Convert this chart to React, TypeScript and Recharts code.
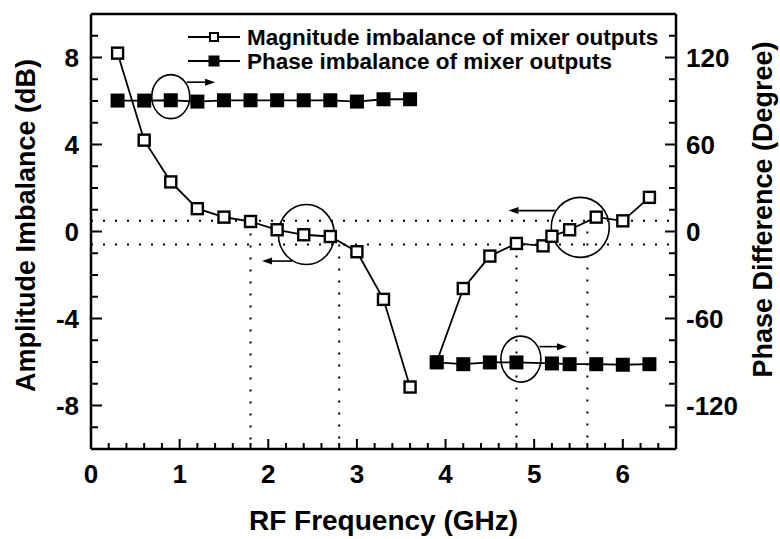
import React from 'react';
import {
  ComposedChart,
  Line,
  XAxis,
  YAxis,
  ReferenceLine,
  ReferenceDot,
  Legend,
} from 'recharts';

const FONT = '"Liberation Sans", Arial, Helvetica, sans-serif';

// Magnitude imbalance (dB): low band and high band are measured separately
const AMP_LOW_FREQ = [0.3, 0.6, 0.9, 1.2, 1.5, 1.8, 2.1, 2.4, 2.7, 3.0, 3.3, 3.6];
const AMP_LOW = [8.2, 4.2, 2.28, 1.05, 0.66, 0.46, 0.08, -0.15, -0.23, -0.93, -3.12, -7.15];
const AMP_HIGH_FREQ = [3.9, 4.2, 4.5, 4.8, 5.1, 5.2, 5.4, 5.7, 6.0, 6.3];
const AMP_HIGH = [-6.0, -2.62, -1.13, -0.55, -0.66, -0.22, 0.08, 0.66, 0.49, 1.57];

// Phase difference (degree)
const PHASE_LOW_FREQ = [0.3, 0.6, 0.9, 1.2, 1.5, 1.8, 2.1, 2.4, 2.7, 3.0, 3.3, 3.6];
const PHASE_LOW = [90.3, 90.3, 90.5, 89.6, 90.5, 90.5, 90.5, 90.5, 90.5, 89.6, 91.2, 91.2];
const PHASE_HIGH_FREQ = [3.9, 4.2, 4.5, 4.8, 5.2, 5.4, 5.7, 6.0, 6.3];
const PHASE_HIGH = [-90.3, -91.5, -90.3, -90.3, -91, -91.5, -91.5, -91.9, -91.5];

const SERIES_NAMES = ['Magnitude imbalance of mixer outputs', 'Phase imbalance of mixer outputs'];

// labelled ticks
const X_LABELS = [0, 1, 2, 3, 4, 5, 6];
const AMP_LABELS = [-8, -4, 0, 4, 8];
const PHASE_LABELS = [-120, -60, 0, 60, 120];

// all tick marks (minor + major)
const X_TICKS = Array.from({ length: 34 }, (_, i) => Math.round(i * 2) / 10);
const AMP_TICKS = Array.from({ length: 21 }, (_, i) => i - 10);
const PHASE_TICKS = Array.from({ length: 21 }, (_, i) => i * 15 - 150);

// bandwidth guides: +/- limits and the band edges
const AMP_LIMITS = [0.5, -0.6];
const BAND_EDGES = [
  { freq: 1.8, from: 0.46 },
  { freq: 2.8, from: -0.6 },
  { freq: 4.8, from: -0.55 },
  { freq: 5.6, from: 0.0 },
];

// circled points with arrows pointing at the axis they belong to
const CIRCLES = [
  { freq: 0.9, value: 93, axis: 'phase', rx: 19, ry: 22 },
  { freq: 2.43, value: -0.14, axis: 'amp', rx: 28, ry: 30 },
  { freq: 5.52, value: 0.19, axis: 'amp', rx: 29, ry: 30 },
  { freq: 4.85, value: -88, axis: 'phase', rx: 20, ry: 23 },
];
const ARROWS = [
  { from: 1.08, to: 1.4, value: 103, axis: 'phase' },
  { from: 2.27, to: 1.93, value: -1.36, axis: 'amp' },
  { from: 5.24, to: 4.71, value: 0.96, axis: 'amp' },
  { from: 5.06, to: 5.37, value: -79.4, axis: 'phase' },
];

const toRows = (freqs: number[], values: number[]) =>
  freqs.map((freq, i) => ({ freq, value: values[i] }));

const ampLow = toRows(AMP_LOW_FREQ, AMP_LOW);
const ampHigh = toRows(AMP_HIGH_FREQ, AMP_HIGH);
const phaseLow = toRows(PHASE_LOW_FREQ, PHASE_LOW);
const phaseHigh = toRows(PHASE_HIGH_FREQ, PHASE_HIGH);

const tickText = { fontFamily: FONT, fontWeight: 700, fontSize: 26, fill: '#000' };

const BottomTick = ({ x, y, payload }: any) => {
  const major = X_LABELS.includes(payload.value);
  return (
    <g>
      <line x1={x} x2={x} y1={y} y2={y - (major ? 10 : 6)} stroke="#000" strokeWidth={2} />
      {major && (
        <text x={x} y={y + 34} textAnchor="middle" style={tickText}>
          {payload.value}
        </text>
      )}
    </g>
  );
};

const TopTick = ({ x, y, payload }: any) => {
  const major = X_LABELS.includes(payload.value);
  return <line x1={x} x2={x} y1={y} y2={y + (major ? 10 : 6)} stroke="#000" strokeWidth={2} />;
};

const LeftTick = ({ x, y, payload }: any) => {
  const major = AMP_LABELS.includes(payload.value);
  return (
    <g>
      <line x1={x} x2={x + (major ? 11 : 7)} y1={y} y2={y} stroke="#000" strokeWidth={2} />
      {major && (
        <text x={x - 12} y={y} dy="0.36em" textAnchor="end" style={tickText}>
          {payload.value}
        </text>
      )}
    </g>
  );
};

const RightTick = ({ x, y, payload }: any) => {
  const major = PHASE_LABELS.includes(payload.value);
  return (
    <g>
      <line x1={x} x2={x - (major ? 11 : 7)} y1={y} y2={y} stroke="#000" strokeWidth={2} />
      {major && (
        <text x={x + 10} y={y} dy="0.36em" textAnchor="start" style={tickText}>
          {payload.value}
        </text>
      )}
    </g>
  );
};

const titleText = { fontFamily: FONT, fontWeight: 700, fontSize: 27, fill: '#000' };

const LeftTitle = ({ viewBox }: any) => {
  const x = viewBox.x + 35;
  const y = viewBox.y + viewBox.height / 2 - 6;
  return (
    <text x={x} y={y} textAnchor="middle" transform={`rotate(-90, ${x}, ${y})`} style={titleText}>
      Amplitude Imbalance (dB)
    </text>
  );
};

const RightTitle = ({ viewBox }: any) => {
  const x = viewBox.x + 96;
  const y = viewBox.y + viewBox.height / 2 - 22;
  return (
    <text x={x} y={y} textAnchor="middle" transform={`rotate(-90, ${x}, ${y})`} style={titleText}>
      Phase Difference (Degree)
    </text>
  );
};

const BottomTitle = ({ viewBox }: any) => (
  <text
    x={viewBox.x + viewBox.width / 2}
    y={viewBox.y + 81}
    textAnchor="middle"
    style={{ ...titleText, fontSize: 28 }}
  >
    RF Frequency (GHz)
  </text>
);

const hollowSquare = (props: any) => {
  const { cx, cy, index } = props;
  if (cx == null || cy == null) return <g key={index} />;
  return (
    <rect key={index} x={cx - 5.5} y={cy - 5.5} width={11} height={11} fill="#fff" stroke="#000" strokeWidth={2.4} />
  );
};

const filledSquare = (props: any) => {
  const { cx, cy, index } = props;
  if (cx == null || cy == null) return <g key={index} />;
  return <rect key={index} x={cx - 7} y={cy - 7} width={14} height={14} fill="#000" />;
};

const arrowShape = (props: any) => {
  const { x1, y1, x2, y2 } = props;
  const dir = Math.sign(x2 - x1) || 1;
  const head = 10;
  return (
    <g>
      <line x1={x1} y1={y1} x2={x2 - dir * head} y2={y2} stroke="#000" strokeWidth={1.6} />
      <polygon
        points={`${x2},${y2} ${x2 - dir * head},${y2 - 3.5} ${x2 - dir * head},${y2 + 3.5}`}
        fill="#000"
      />
    </g>
  );
};

const renderLegend = () => (
  <svg width={500} height={52} style={{ display: 'block' }}>
    {SERIES_NAMES.map((name, i) => {
      const cy = 13 + i * 24;
      return (
        <g key={name}>
          <line x1={8} x2={60} y1={cy} y2={cy} stroke="#000" strokeWidth={1.8} />
          {i === 0 ? (
            <rect x={30} y={cy - 4} width={8} height={8} fill="#fff" stroke="#000" strokeWidth={2} />
          ) : (
            <rect x={28.5} y={cy - 5.5} width={11} height={11} fill="#000" />
          )}
          <text x={67} y={cy + 8} style={{ fontFamily: FONT, fontWeight: 700, fontSize: 22.5, fill: '#000' }}>
            {name}
          </text>
        </g>
      );
    })}
  </svg>
);

const axisLine = { stroke: '#000', strokeWidth: 2.5 };
const dotted = { stroke: '#000', strokeWidth: 2, strokeDasharray: '2 10' };

export default function App() {
  return (
    <div style={{ position: 'absolute', left: 0, top: 0, background: '#fff' }}>
      <ComposedChart width={780} height={539} margin={{ top: 0, right: 0, bottom: 0, left: 0 }}>
        <XAxis
          dataKey="freq"
          type="number"
          domain={[0, 6.6]}
          ticks={X_TICKS}
          interval={0}
          height={90}
          tickSize={0}
          tickMargin={0}
          tick={<BottomTick />}
          axisLine={axisLine}
          label={<BottomTitle />}
        />
        <XAxis
          xAxisId="top"
          orientation="top"
          dataKey="freq"
          type="number"
          domain={[0, 6.6]}
          ticks={X_TICKS}
          interval={0}
          height={14}
          tickSize={0}
          tickMargin={0}
          tick={<TopTick />}
          axisLine={axisLine}
        />
        <YAxis
          yAxisId="amp"
          type="number"
          domain={[-10, 10]}
          ticks={AMP_TICKS}
          interval={0}
          width={91}
          tickSize={0}
          tickMargin={0}
          tick={<LeftTick />}
          axisLine={axisLine}
          label={<LeftTitle />}
        />
        <YAxis
          yAxisId="phase"
          orientation="right"
          type="number"
          domain={[-150, 150]}
          ticks={PHASE_TICKS}
          interval={0}
          width={104}
          tickSize={0}
          tickMargin={0}
          tick={<RightTick />}
          axisLine={axisLine}
          label={<RightTitle />}
        />

        {AMP_LIMITS.map((v) => (
          <ReferenceLine key={`lim-${v}`} yAxisId="amp" y={v} {...dotted} />
        ))}
        {BAND_EDGES.map((b) => (
          <ReferenceLine
            key={`edge-${b.freq}`}
            yAxisId="amp"
            segment={[
              { x: b.freq, y: b.from },
              { x: b.freq, y: -10 },
            ]}
            {...dotted}
          />
        ))}

        <Line
          yAxisId="amp"
          data={ampLow}
          dataKey="value"
          name={SERIES_NAMES[0]}
          stroke="#000"
          strokeWidth={1.8}
          dot={hollowSquare}
          isAnimationActive={false}
        />
        <Line
          yAxisId="amp"
          data={ampHigh}
          dataKey="value"
          legendType="none"
          stroke="#000"
          strokeWidth={1.8}
          dot={hollowSquare}
          isAnimationActive={false}
        />
        <Line
          yAxisId="phase"
          data={phaseLow}
          dataKey="value"
          name={SERIES_NAMES[1]}
          stroke="#000"
          strokeWidth={1.8}
          dot={filledSquare}
          isAnimationActive={false}
        />
        <Line
          yAxisId="phase"
          data={phaseHigh}
          dataKey="value"
          legendType="none"
          stroke="#000"
          strokeWidth={1.8}
          dot={filledSquare}
          isAnimationActive={false}
        />

        {CIRCLES.map((c, i) => (
          <ReferenceDot
            key={`circle-${i}`}
            yAxisId={c.axis}
            x={c.freq}
            y={c.value}
            shape={(p: any) => (
              <ellipse cx={p.cx} cy={p.cy} rx={c.rx} ry={c.ry} fill="none" stroke="#000" strokeWidth={1.6} />
            )}
          />
        ))}
        {ARROWS.map((a, i) => (
          <ReferenceLine
            key={`arrow-${i}`}
            yAxisId={a.axis}
            segment={[
              { x: a.from, y: a.value },
              { x: a.to, y: a.value },
            ]}
            shape={arrowShape}
          />
        ))}

        <Legend
          layout="vertical"
          align="center"
          verticalAlign="middle"
          content={renderLegend}
          wrapperStyle={{ top: 24, left: 180, width: 500 }}
        />
      </ComposedChart>
    </div>
  );
}
